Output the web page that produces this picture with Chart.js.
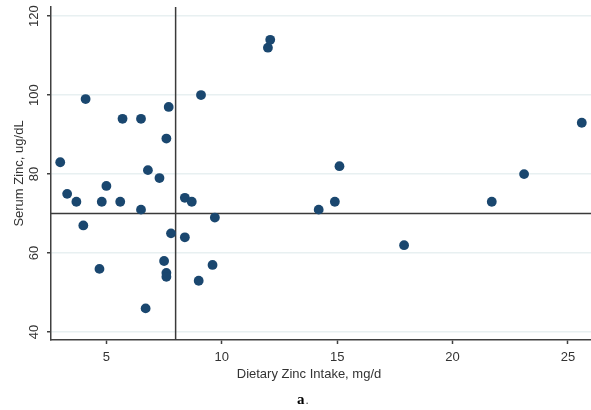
<!DOCTYPE html>
<html>
<head>
<meta charset="utf-8">
<script src="https://cdn.jsdelivr.net/npm/chart.js@4/dist/chart.umd.min.js"></script>
<style>
  html, body { margin: 0; padding: 0; background: #ffffff; }
  #wrap { width: 591px; height: 410px; }
</style>
</head>
<body>
<div id="wrap"><canvas id="c" width="591" height="410"></canvas></div>
<script>
// ---- data ----
const dietaryZinc = [3.0, 3.3, 3.7, 4.0, 4.1, 4.7, 4.8, 5.0, 5.6, 5.7, 6.5, 6.5, 6.7, 6.8, 7.3, 7.5, 7.6, 7.6, 7.6, 7.7, 7.8, 8.4, 8.4, 8.7, 9.0, 9.1, 9.6, 9.7, 12.0, 12.1, 14.2, 14.9, 15.1, 17.9, 21.7, 23.1, 25.6];
const serumZinc   = [83, 75, 73, 67, 99, 56, 73, 77, 73, 94, 94, 71, 46, 81, 79, 58, 55, 54, 89, 97, 65, 74, 64, 73, 53, 100, 57, 69, 112, 114, 71, 73, 82, 62, 73, 80, 93];
const xTickValues = [5, 10, 15, 20, 25];
const yTickValues = [40, 60, 80, 100, 120];
const xAxisRange = [2.6, 26];
const yAxisRange = [38, 122.3];
const referenceX = 8;
const referenceY = 70;
const xTitle = 'Dietary Zinc Intake, mg/d';
const yTitle = 'Serum Zinc, ug/dL';
const panelLabel = 'a';

const FONT = '"Liberation Sans", Arial, sans-serif';
const AXIS_COLOR = '#404040';
const TEXT_COLOR = '#333333';

const points = dietaryZinc.map((x, i) => ({ x: x, y: serumZinc[i] }));

const refLines = {
  id: 'refLines',
  beforeDatasetsDraw(chart) {
    const { ctx, chartArea: a, scales: { x, y } } = chart;
    ctx.save();
    ctx.strokeStyle = '#3a3a3a';
    ctx.lineWidth = 1.5;
    const px = x.getPixelForValue(referenceX);
    const py = y.getPixelForValue(referenceY);
    ctx.beginPath();
    ctx.moveTo(px, a.top); ctx.lineTo(px, a.bottom);
    ctx.moveTo(a.left, py); ctx.lineTo(a.right, py);
    ctx.stroke();
    ctx.restore();
  }
};

const texts = {
  id: 'texts',
  afterDraw(chart) {
    const { ctx, chartArea: a, scales: { y } } = chart;
    ctx.save();
    ctx.fillStyle = TEXT_COLOR;
    ctx.font = '13px ' + FONT;
    ctx.textAlign = 'center';
    ctx.textBaseline = 'middle';
    // rotated y tick labels
    yTickValues.forEach(v => {
      ctx.save();
      ctx.translate(34, y.getPixelForValue(v));
      ctx.rotate(-Math.PI / 2);
      ctx.fillText(String(v), 0, 0);
      ctx.restore();
    });
    // y title
    ctx.save();
    ctx.translate(19, (a.top + a.bottom) / 2);
    ctx.rotate(-Math.PI / 2);
    ctx.fillText(yTitle, 0, 0);
    ctx.restore();
    // x title
    ctx.fillText(xTitle, 309, 374);
    // panel label
    ctx.fillStyle = '#000000';
    ctx.font = 'bold 15px "Liberation Serif", "Times New Roman", serif';
    ctx.textAlign = 'left';
    const w = ctx.measureText(panelLabel).width;
    ctx.fillText(panelLabel, 297, 400);
    ctx.font = '13px "Liberation Serif", serif';
    ctx.fillStyle = '#555555';
    ctx.fillText('.', 297 + w + 1, 401);
    ctx.restore();
  }
};

new Chart(document.getElementById('c'), {
  type: 'scatter',
  data: {
    datasets: [{
      data: points,
      backgroundColor: '#1a476f',
      borderColor: '#1a476f',
      borderWidth: 0,
      pointRadius: 4.9,
      pointHoverRadius: 4.9
    }]
  },
  options: {
    responsive: false,
    animation: false,
    devicePixelRatio: 1,
    layout: { autoPadding: false, padding: { top: 7, right: 0, bottom: 0, left: 0 } },
    plugins: { legend: { display: false }, tooltip: { enabled: false } },
    scales: {
      x: {
        type: 'linear',
        min: xAxisRange[0],
        max: xAxisRange[1],
        afterBuildTicks: s => { s.ticks = xTickValues.map(v => ({ value: v })); },
        afterFit: s => { s.height = 70; },
        grid: { drawOnChartArea: false, drawTicks: true, tickLength: 4, tickColor: AXIS_COLOR, tickWidth: 1.5 },
        border: { color: AXIS_COLOR, width: 1.5 },
        ticks: { color: TEXT_COLOR, font: { family: FONT, size: 13 }, padding: 6, maxRotation: 0, autoSkip: false }
      },
      y: {
        type: 'linear',
        min: yAxisRange[0],
        max: yAxisRange[1],
        afterBuildTicks: s => { s.ticks = yTickValues.map(v => ({ value: v })); },
        afterFit: s => { s.width = 51; s.paddingTop = 0; s.paddingBottom = 0; },
        grid: { color: '#e8f0f1', lineWidth: 1.5, drawTicks: true, tickLength: 4, tickColor: AXIS_COLOR, tickWidth: 1.5 },
        border: { color: AXIS_COLOR, width: 1.5 },
        ticks: { display: false }
      }
    }
  },
  plugins: [refLines, texts]
});
</script>
</body>
</html>
